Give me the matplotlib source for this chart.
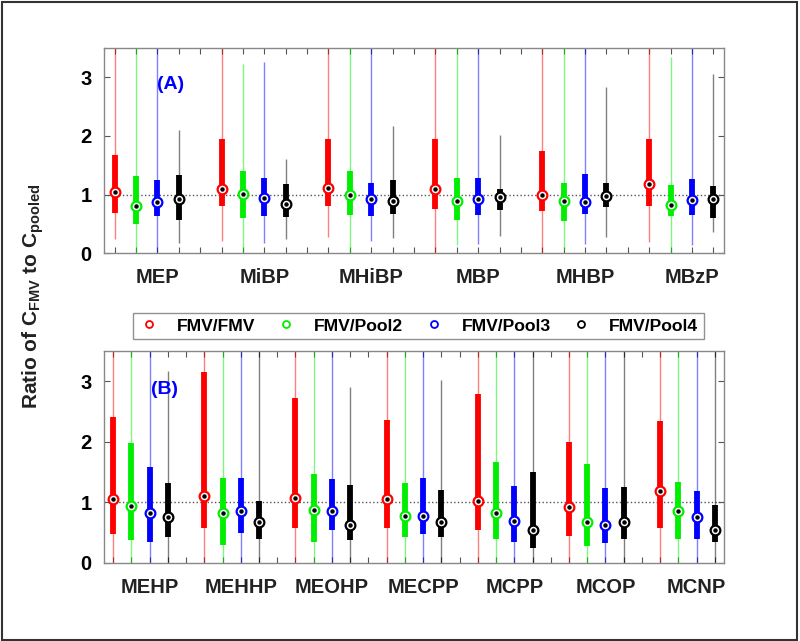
import matplotlib
matplotlib.use('Agg')
import matplotlib.pyplot as plt
from matplotlib.lines import Line2D
from matplotlib.patches import Rectangle
import numpy as np

plt.rcParams['font.family'] = ['Liberation Sans', 'DejaVu Sans']
plt.rcParams['font.weight'] = 'bold'
plt.rcParams['mathtext.fontset'] = 'custom'
plt.rcParams['mathtext.bf'] = 'Liberation Sans:bold'
plt.rcParams['mathtext.rm'] = 'Liberation Sans:bold'
plt.rcParams['mathtext.default'] = 'bf'

series = ['FMV/FMV', 'FMV/Pool2', 'FMV/Pool3', 'FMV/Pool4']
colors = ['#ff0000', '#00ee00', '#0000ff', '#000000']

# panel A: per group, one value per series (FMV, Pool2, Pool3, Pool4)
groups_a = ['MEP', 'MiBP', 'MHiBP', 'MBP', 'MHBP', 'MBzP']
lo_a = [[0.24, 0.00, 0.00, 0.17], [0.20, 0.00, 0.17, 0.24], [0.28, 0.00, 0.21, 0.26],
        [0.00, 0.14, 0.15, 0.30], [0.00, 0.05, 0.15, 0.28], [0.19, 0.00, 0.14, 0.36]]
q1_a = [[0.68, 0.50, 0.63, 0.57], [0.81, 0.60, 0.63, 0.61], [0.80, 0.65, 0.64, 0.67],
        [0.76, 0.57, 0.65, 0.73], [0.72, 0.55, 0.67, 0.79], [0.81, 0.63, 0.65, 0.60]]
med_a = [[1.04, 0.81, 0.87, 0.93], [1.09, 1.01, 0.94, 0.84], [1.11, 1.00, 0.92, 0.89],
         [1.09, 0.89, 0.93, 0.96], [1.00, 0.89, 0.88, 0.97], [1.18, 0.82, 0.90, 0.93]]
q3_a = [[1.68, 1.31, 1.25, 1.34], [1.95, 1.41, 1.28, 1.18], [1.94, 1.41, 1.19, 1.25],
        [1.94, 1.29, 1.29, 1.09], [1.74, 1.20, 1.35, 1.20], [1.95, 1.17, 1.26, 1.14]]
hi_a = [[3.6, 3.6, 3.6, 2.11], [3.6, 3.22, 3.26, 1.60], [3.6, 3.6, 3.6, 2.17],
        [3.6, 3.6, 3.6, 2.02], [3.6, 3.6, 3.6, 2.83], [3.6, 3.34, 3.6, 3.06]]

# panel B
groups_b = ['MEHP', 'MEHHP', 'MEOHP', 'MECPP', 'MCPP', 'MCOP', 'MCNP']
lo_b = [[0.0, 0.0, 0.0, 0.0]] * 7
q1_b = [[0.48, 0.37, 0.35, 0.42], [0.57, 0.30, 0.50, 0.39], [0.58, 0.35, 0.55, 0.37],
        [0.57, 0.42, 0.47, 0.42], [0.54, 0.39, 0.35, 0.25], [0.45, 0.27, 0.33, 0.40],
        [0.58, 0.40, 0.40, 0.35]]
med_b = [[1.05, 0.94, 0.82, 0.75], [1.11, 0.83, 0.85, 0.67], [1.08, 0.88, 0.86, 0.62],
         [1.06, 0.78, 0.78, 0.68], [1.02, 0.82, 0.69, 0.54], [0.93, 0.67, 0.63, 0.67],
         [1.18, 0.85, 0.75, 0.55]]
q3_b = [[2.42, 1.98, 1.58, 1.32], [3.16, 1.40, 1.40, 1.02], [2.72, 1.47, 1.39, 1.28],
        [2.37, 1.32, 1.40, 1.21], [2.79, 1.66, 1.27, 1.51], [2.00, 1.64, 1.24, 1.25],
        [2.34, 1.34, 1.19, 0.96]]
hi_b = [[3.6, 3.6, 3.6, 3.18], [3.6, 3.6, 3.6, 3.6], [3.6, 3.6, 3.6, 2.91],
        [3.6, 3.6, 3.6, 3.03], [3.6, 3.6, 3.6, 3.6], [3.6, 3.6, 3.6, 3.6],
        [3.6, 3.6, 3.6, 3.6]]


def draw_panel(ax, groups, lo, q1, med, q3, hi, tag, tag_x):
    n = len(groups)
    npos = 5 * n - 1
    ax.axhline(1, color='#555555', ls=':', lw=1, zorder=1)
    for g in range(n):
        for s in range(4):
            x = 5 * g + s + 1
            c = colors[s]
            ax.plot([x, x], [lo[g][s], hi[g][s]], color=c, lw=1, alpha=0.5, zorder=2,
                    solid_capstyle='butt')
            ax.plot([x, x], [q1[g][s], q3[g][s]], color=c, lw=4.2, zorder=3,
                    solid_capstyle='butt')
            ax.plot(x, med[g][s], 'o', ms=7, mfc='white', mec=c, mew=1.6, zorder=4)
            ax.plot(x, med[g][s], 'o', ms=2.2, color='black', zorder=5)
    ax.set_xlim(0.5, npos + 0.5)
    ax.set_ylim(0, 3.5)
    ax.set_yticks([0, 1, 2, 3])
    ax.set_yticklabels(['0', '1', '2', '3'], fontsize=14.5, fontweight='bold')
    ticks = np.arange(1, npos + 1)
    labels = [''] * npos
    for g in range(n):
        labels[5 * g + 2] = groups[g]
    ax.set_xticks(ticks)
    ax.set_xticklabels(labels, fontsize=14.5, fontweight='bold', color='#222222')
    ax.tick_params(axis='both', direction='in', top=True, right=True, length=4,
                   color='#555555', width=0.8, pad=9)
    ax.tick_params(axis='x', pad=11)
    for sp in ax.spines.values():
        sp.set_color('#888888')
        sp.set_linewidth(1)
    ax.text(tag_x, 0.8, tag, transform=ax.transAxes, color='#0000ff',
            fontsize=14, fontweight='bold')


fig = plt.figure(figsize=(8, 6.41), dpi=100)
ax_a = fig.add_axes([0.13, 0.605, 0.775, 0.32])
ax_b = fig.add_axes([0.13, 0.122, 0.775, 0.330])

draw_panel(ax_a, groups_a, lo_a, q1_a, med_a, q3_a, hi_a, '(A)', 0.085)
draw_panel(ax_b, groups_b, lo_b, q1_b, med_b, q3_b, hi_b, '(B)', 0.075)

handles = [Line2D([], [], ls='none', marker='o', ms=5, mfc='white', mec=c, mew=1.3)
           for c in colors]
leg = fig.legend(handles, series, loc='center', bbox_to_anchor=(0.523, 0.4915), ncol=4,
                 prop={'size': 12.6, 'weight': 'bold'}, fancybox=False, edgecolor='#777777',
                 handletextpad=1.0, columnspacing=1.15, borderpad=0.3, handlelength=1.2)
leg.get_frame().set_linewidth(1)

fig.text(0.042, 0.538, r'Ratio of C$_{FMV}$ to C$_{pooled}$', rotation=90,
         ha='center', va='center', fontsize=15, fontweight='bold', color='#222222')

fig.patches.append(Rectangle((0.002, 0.002), 0.994, 0.995, transform=fig.transFigure,
                             fill=False, edgecolor='#333333', lw=1.5))

fig.savefig('out.png', dpi=100)
